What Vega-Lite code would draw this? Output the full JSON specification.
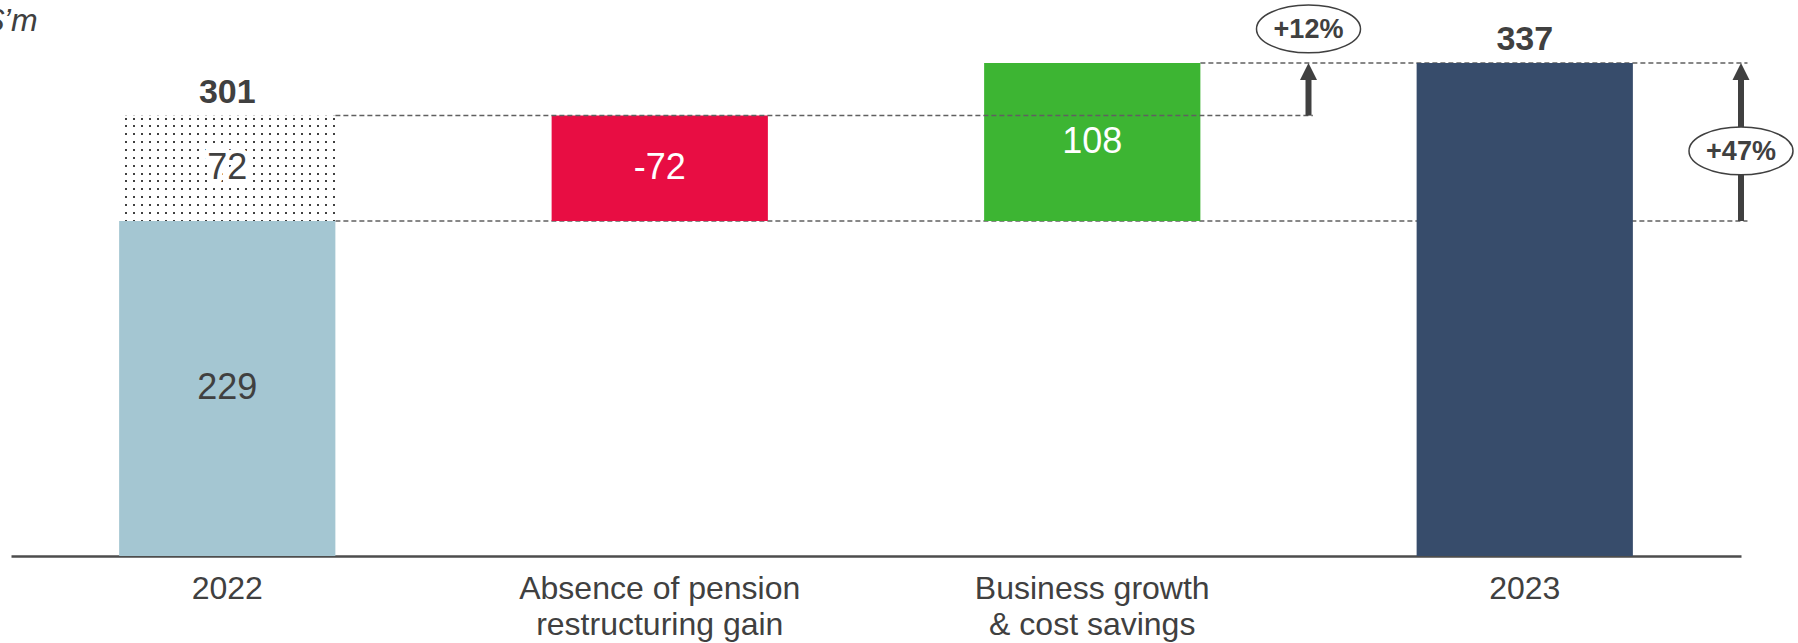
{
  "$schema": "https://vega.github.io/schema/vega-lite/v6.json",
  "width": 1730,
  "height": 556,
  "autosize": {"type": "none"},
  "padding": {"left": 11, "top": 0, "right": 57, "bottom": 87},
  "background": "white",
  "title": {
    "text": "$’m",
    "anchor": "start",
    "frame": "group",
    "orient": "top",
    "offset": -30,
    "dx": -25,
    "dy": 33,
    "baseline": "alphabetic",
    "fontSize": 32,
    "fontStyle": "italic",
    "fontWeight": "normal",
    "color": "#404040",
    "font": "Liberation Sans"
  },
  "config": {
    "view": {"stroke": null},
    "font": "Liberation Sans",
    "axis": {"grid": false},
    "axisY": {"domain": false, "ticks": false, "labels": false, "title": null}
  },
  "datasets": {
    "bars": [
      {"cat": "2022", "start": 0, "end": 229, "kind": "base"},
      {"cat": "Absence of pension restructuring gain", "start": 229, "end": 301, "kind": "neg"},
      {"cat": "Business growth & cost savings", "start": 229, "end": 337, "kind": "pos"},
      {"cat": "2023", "start": 0, "end": 337, "kind": "total"}
    ],
    "dotted": [
      {"cat": "2022", "start": 229, "end": 301, "label": "72"}
    ],
    "labels": [
      {"cat": "2022", "start": 0, "end": 229, "text": "229", "tone": "dark"},
      {"cat": "2022", "start": 229, "end": 301, "text": "72", "tone": "dark"},
      {"cat": "Absence of pension restructuring gain", "start": 229, "end": 301, "text": "-72", "tone": "light"},
      {"cat": "Business growth & cost savings", "start": 229, "end": 337, "text": "108", "tone": "light"}
    ],
    "totals": [
      {"cat": "2022", "value": 301},
      {"cat": "2023", "value": 337}
    ],
    "connUnder": [
      {"from": "2022", "to": "2023", "level": 229},
      {"from": "Business growth & cost savings", "to": "2023", "level": 337}
    ],
    "connOver": [
      {"from": "2022", "to": "2023", "level": 301}
    ],
    "arrow12": [
      {"cat": "2023", "from": 301, "to": 337, "pct": "+12%"}
    ],
    "arrow47": [
      {"cat": "2023", "from": 229, "to": 337, "pct": "+47%"}
    ]
  },
  "layer": [
    {
      "data": {"name": "connUnder"},
      "mark": {"type": "rule", "strokeDash": [5, 3], "strokeWidth": 1.5, "color": "#606060"},
      "encoding": {
        "x": {"field": "from", "type": "nominal", "bandPosition": 1, "title": null},
        "x2": {"field": "to", "bandPosition": 1.53},
        "y": {"field": "level", "type": "quantitative", "title": null}
      }
    },
    {
      "data": {"name": "bars"},
      "mark": {"type": "bar"},
      "encoding": {
        "x": {
          "field": "cat",
          "type": "nominal",
          "scale": {
            "domain": ["2022", "Absence of pension restructuring gain", "Business growth & cost savings", "2023"],
            "paddingInner": 0.5,
            "paddingOuter": 0.25
          },
          "axis": {
            "title": null,
            "ticks": false,
            "domain": true,
            "domainColor": "#4d4d4d",
            "domainWidth": 2.5,
            "labelFontSize": 32,
            "labelColor": "#404040",
            "labelPadding": 32,
            "labelLineHeight": 36,
            "labelLimit": 0,
            "labelOverlap": false,
            "labelAngle": 0,
            "labelAlign": "center",
            "labelExpr": "datum.value == 'Absence of pension restructuring gain' ? ['Absence of pension', 'restructuring gain'] : datum.value == 'Business growth & cost savings' ? ['Business growth', '& cost savings'] : datum.value"
          }
        },
        "y": {
          "field": "start",
          "type": "quantitative",
          "scale": {"domain": [0, 380], "nice": false},
          "axis": {"domain": false, "ticks": false, "labels": false, "grid": false, "title": null}
        },
        "y2": {"field": "end"},
        "color": {
          "field": "kind",
          "type": "nominal",
          "scale": {"domain": ["base", "neg", "pos", "total"], "range": ["#A4C6D2", "#E80D43", "#3DB533", "#374C6B"]},
          "legend": null
        }
      }
    },
    {
      "data": {"name": "dotted"},
      "mark": {
        "type": "bar",
        "fill": {
          "gradient": "linear", "x1": 0, "y1": 0, "x2": 1, "y2": 0,
          "stops": [
            {"offset": 0, "color": "#ffffff"},
            {"offset": 0.0277, "color": "#ffffff"}, {"offset": 0.0277, "color": "#404040"}, {"offset": 0.0370, "color": "#404040"}, {"offset": 0.0370, "color": "#ffffff"},
            {"offset": 0.0647, "color": "#ffffff"}, {"offset": 0.0647, "color": "#404040"}, {"offset": 0.0740, "color": "#404040"}, {"offset": 0.0740, "color": "#ffffff"},
            {"offset": 0.1017, "color": "#ffffff"}, {"offset": 0.1017, "color": "#404040"}, {"offset": 0.1110, "color": "#404040"}, {"offset": 0.1110, "color": "#ffffff"},
            {"offset": 0.1387, "color": "#ffffff"}, {"offset": 0.1387, "color": "#404040"}, {"offset": 0.1480, "color": "#404040"}, {"offset": 0.1480, "color": "#ffffff"},
            {"offset": 0.1757, "color": "#ffffff"}, {"offset": 0.1757, "color": "#404040"}, {"offset": 0.1850, "color": "#404040"}, {"offset": 0.1850, "color": "#ffffff"},
            {"offset": 0.2127, "color": "#ffffff"}, {"offset": 0.2127, "color": "#404040"}, {"offset": 0.2220, "color": "#404040"}, {"offset": 0.2220, "color": "#ffffff"},
            {"offset": 0.2497, "color": "#ffffff"}, {"offset": 0.2497, "color": "#404040"}, {"offset": 0.2590, "color": "#404040"}, {"offset": 0.2590, "color": "#ffffff"},
            {"offset": 0.2867, "color": "#ffffff"}, {"offset": 0.2867, "color": "#404040"}, {"offset": 0.2960, "color": "#404040"}, {"offset": 0.2960, "color": "#ffffff"},
            {"offset": 0.3237, "color": "#ffffff"}, {"offset": 0.3237, "color": "#404040"}, {"offset": 0.3329, "color": "#404040"}, {"offset": 0.3329, "color": "#ffffff"},
            {"offset": 0.3607, "color": "#ffffff"}, {"offset": 0.3607, "color": "#404040"}, {"offset": 0.3699, "color": "#404040"}, {"offset": 0.3699, "color": "#ffffff"},
            {"offset": 0.3977, "color": "#ffffff"}, {"offset": 0.3977, "color": "#404040"}, {"offset": 0.4069, "color": "#404040"}, {"offset": 0.4069, "color": "#ffffff"},
            {"offset": 0.4347, "color": "#ffffff"}, {"offset": 0.4347, "color": "#404040"}, {"offset": 0.4439, "color": "#404040"}, {"offset": 0.4439, "color": "#ffffff"},
            {"offset": 0.4717, "color": "#ffffff"}, {"offset": 0.4717, "color": "#404040"}, {"offset": 0.4809, "color": "#404040"}, {"offset": 0.4809, "color": "#ffffff"},
            {"offset": 0.5087, "color": "#ffffff"}, {"offset": 0.5087, "color": "#404040"}, {"offset": 0.5179, "color": "#404040"}, {"offset": 0.5179, "color": "#ffffff"},
            {"offset": 0.5457, "color": "#ffffff"}, {"offset": 0.5457, "color": "#404040"}, {"offset": 0.5549, "color": "#404040"}, {"offset": 0.5549, "color": "#ffffff"},
            {"offset": 0.5827, "color": "#ffffff"}, {"offset": 0.5827, "color": "#404040"}, {"offset": 0.5919, "color": "#404040"}, {"offset": 0.5919, "color": "#ffffff"},
            {"offset": 0.6197, "color": "#ffffff"}, {"offset": 0.6197, "color": "#404040"}, {"offset": 0.6289, "color": "#404040"}, {"offset": 0.6289, "color": "#ffffff"},
            {"offset": 0.6567, "color": "#ffffff"}, {"offset": 0.6567, "color": "#404040"}, {"offset": 0.6659, "color": "#404040"}, {"offset": 0.6659, "color": "#ffffff"},
            {"offset": 0.6936, "color": "#ffffff"}, {"offset": 0.6936, "color": "#404040"}, {"offset": 0.7029, "color": "#404040"}, {"offset": 0.7029, "color": "#ffffff"},
            {"offset": 0.7306, "color": "#ffffff"}, {"offset": 0.7306, "color": "#404040"}, {"offset": 0.7399, "color": "#404040"}, {"offset": 0.7399, "color": "#ffffff"},
            {"offset": 0.7676, "color": "#ffffff"}, {"offset": 0.7676, "color": "#404040"}, {"offset": 0.7769, "color": "#404040"}, {"offset": 0.7769, "color": "#ffffff"},
            {"offset": 0.8046, "color": "#ffffff"}, {"offset": 0.8046, "color": "#404040"}, {"offset": 0.8139, "color": "#404040"}, {"offset": 0.8139, "color": "#ffffff"},
            {"offset": 0.8416, "color": "#ffffff"}, {"offset": 0.8416, "color": "#404040"}, {"offset": 0.8509, "color": "#404040"}, {"offset": 0.8509, "color": "#ffffff"},
            {"offset": 0.8786, "color": "#ffffff"}, {"offset": 0.8786, "color": "#404040"}, {"offset": 0.8879, "color": "#404040"}, {"offset": 0.8879, "color": "#ffffff"},
            {"offset": 0.9156, "color": "#ffffff"}, {"offset": 0.9156, "color": "#404040"}, {"offset": 0.9249, "color": "#404040"}, {"offset": 0.9249, "color": "#ffffff"},
            {"offset": 0.9526, "color": "#ffffff"}, {"offset": 0.9526, "color": "#404040"}, {"offset": 0.9619, "color": "#404040"}, {"offset": 0.9619, "color": "#ffffff"},
            {"offset": 0.9896, "color": "#ffffff"}, {"offset": 0.9896, "color": "#404040"}, {"offset": 0.9988, "color": "#404040"}, {"offset": 0.9988, "color": "#ffffff"},
            {"offset": 1, "color": "#ffffff"}
          ]
        }
      },
      "encoding": {
        "x": {"field": "cat", "type": "nominal", "title": null},
        "y": {"field": "start", "type": "quantitative", "title": null},
        "y2": {"field": "end"}
      }
    },
    {
      "data": {"name": "dotted"},
      "mark": {
        "type": "bar",
        "fill": {
          "gradient": "linear", "x1": 0, "y1": 0, "x2": 0, "y2": 1,
          "stops": [
            {"offset": 0, "color": "#ffffff"},
            {"offset": 0.0190, "color": "#ffffff"}, {"offset": 0.0190, "color": "rgba(255,255,255,0)"}, {"offset": 0.0380, "color": "rgba(255,255,255,0)"}, {"offset": 0.0380, "color": "#ffffff"},
            {"offset": 0.0935, "color": "#ffffff"}, {"offset": 0.0935, "color": "rgba(255,255,255,0)"}, {"offset": 0.1125, "color": "rgba(255,255,255,0)"}, {"offset": 0.1125, "color": "#ffffff"},
            {"offset": 0.1681, "color": "#ffffff"}, {"offset": 0.1681, "color": "rgba(255,255,255,0)"}, {"offset": 0.1871, "color": "rgba(255,255,255,0)"}, {"offset": 0.1871, "color": "#ffffff"},
            {"offset": 0.2426, "color": "#ffffff"}, {"offset": 0.2426, "color": "rgba(255,255,255,0)"}, {"offset": 0.2616, "color": "rgba(255,255,255,0)"}, {"offset": 0.2616, "color": "#ffffff"},
            {"offset": 0.3172, "color": "#ffffff"}, {"offset": 0.3172, "color": "rgba(255,255,255,0)"}, {"offset": 0.3362, "color": "rgba(255,255,255,0)"}, {"offset": 0.3362, "color": "#ffffff"},
            {"offset": 0.3917, "color": "#ffffff"}, {"offset": 0.3917, "color": "rgba(255,255,255,0)"}, {"offset": 0.4107, "color": "rgba(255,255,255,0)"}, {"offset": 0.4107, "color": "#ffffff"},
            {"offset": 0.4663, "color": "#ffffff"}, {"offset": 0.4663, "color": "rgba(255,255,255,0)"}, {"offset": 0.4853, "color": "rgba(255,255,255,0)"}, {"offset": 0.4853, "color": "#ffffff"},
            {"offset": 0.5408, "color": "#ffffff"}, {"offset": 0.5408, "color": "rgba(255,255,255,0)"}, {"offset": 0.5598, "color": "rgba(255,255,255,0)"}, {"offset": 0.5598, "color": "#ffffff"},
            {"offset": 0.6154, "color": "#ffffff"}, {"offset": 0.6154, "color": "rgba(255,255,255,0)"}, {"offset": 0.6344, "color": "rgba(255,255,255,0)"}, {"offset": 0.6344, "color": "#ffffff"},
            {"offset": 0.6899, "color": "#ffffff"}, {"offset": 0.6899, "color": "rgba(255,255,255,0)"}, {"offset": 0.7089, "color": "rgba(255,255,255,0)"}, {"offset": 0.7089, "color": "#ffffff"},
            {"offset": 0.7645, "color": "#ffffff"}, {"offset": 0.7645, "color": "rgba(255,255,255,0)"}, {"offset": 0.7835, "color": "rgba(255,255,255,0)"}, {"offset": 0.7835, "color": "#ffffff"},
            {"offset": 0.8390, "color": "#ffffff"}, {"offset": 0.8390, "color": "rgba(255,255,255,0)"}, {"offset": 0.8580, "color": "rgba(255,255,255,0)"}, {"offset": 0.8580, "color": "#ffffff"},
            {"offset": 0.9136, "color": "#ffffff"}, {"offset": 0.9136, "color": "rgba(255,255,255,0)"}, {"offset": 0.9326, "color": "rgba(255,255,255,0)"}, {"offset": 0.9326, "color": "#ffffff"},
            {"offset": 0.9881, "color": "#ffffff"}, {"offset": 0.9881, "color": "rgba(255,255,255,0)"}, {"offset": 1, "color": "rgba(255,255,255,0)"}
          ]
        }
      },
      "encoding": {
        "x": {"field": "cat", "type": "nominal", "title": null},
        "y": {"field": "start", "type": "quantitative", "title": null},
        "y2": {"field": "end"}
      }
    },
    {
      "data": {"name": "connOver"},
      "mark": {"type": "rule", "strokeDash": [5, 3], "strokeWidth": 1.5, "color": "#606060"},
      "encoding": {
        "x": {"field": "from", "type": "nominal", "bandPosition": 1, "title": null},
        "x2": {"field": "to", "bandPosition": -0.48},
        "y": {"field": "level", "type": "quantitative", "title": null}
      }
    },
    {
      "data": {"name": "dotted"},
      "transform": [{"calculate": "(datum.start + datum.end) / 2", "as": "mid"}],
      "mark": {"type": "text", "fontSize": 36, "baseline": "middle", "fill": "#ffffff", "stroke": "#ffffff", "strokeWidth": 10, "strokeJoin": "round"},
      "encoding": {
        "x": {"field": "cat", "type": "nominal", "title": null},
        "y": {"field": "mid", "type": "quantitative", "title": null},
        "text": {"field": "label"}
      }
    },
    {
      "data": {"name": "labels"},
      "transform": [{"calculate": "(datum.start + datum.end) / 2", "as": "mid"}],
      "mark": {"type": "text", "fontSize": 36, "baseline": "middle"},
      "encoding": {
        "x": {"field": "cat", "type": "nominal", "title": null},
        "y": {"field": "mid", "type": "quantitative", "title": null},
        "text": {"field": "text"},
        "fill": {"field": "tone", "type": "nominal", "scale": {"domain": ["dark", "light"], "range": ["#404040", "#ffffff"]}, "legend": null}
      }
    },
    {
      "data": {"name": "totals"},
      "mark": {"type": "text", "fontSize": 34, "fontWeight": "bold", "baseline": "alphabetic", "dy": -13, "color": "#404040"},
      "encoding": {
        "x": {"field": "cat", "type": "nominal", "title": null},
        "y": {"field": "value", "type": "quantitative", "title": null},
        "text": {"field": "value"}
      }
    },
    {
      "data": {"name": "arrow12"},
      "mark": {"type": "rule", "strokeWidth": 6, "color": "#404040", "y2Offset": 9},
      "encoding": {
        "x": {"field": "cat", "type": "nominal", "bandPosition": -0.5, "title": null},
        "y": {"field": "from", "type": "quantitative", "title": null},
        "y2": {"field": "to"}
      }
    },
    {
      "data": {"name": "arrow12"},
      "mark": {"type": "point", "shape": "M 0 0 L 1 2 L -1 2 Z", "size": 289, "filled": true, "color": "#404040", "opacity": 1, "strokeWidth": 0},
      "encoding": {
        "x": {"field": "cat", "type": "nominal", "bandPosition": -0.5, "title": null},
        "y": {"field": "to", "type": "quantitative", "title": null}
      }
    },
    {
      "data": {"name": "arrow12"},
      "mark": {"type": "point", "shape": "M -1 0 A 1 0.46 0 1 1 1 0 A 1 0.46 0 1 1 -1 0 Z", "size": 10816, "filled": true, "fill": "#ffffff", "stroke": "#404040", "strokeWidth": 1.5, "opacity": 1, "fillOpacity": 1, "yOffset": -34},
      "encoding": {
        "x": {"field": "cat", "type": "nominal", "bandPosition": -0.5, "title": null},
        "y": {"field": "to", "type": "quantitative", "title": null}
      }
    },
    {
      "data": {"name": "arrow12"},
      "mark": {"type": "text", "fontSize": 27, "fontWeight": "bold", "baseline": "middle", "color": "#404040", "yOffset": -33},
      "encoding": {
        "x": {"field": "cat", "type": "nominal", "bandPosition": -0.5, "title": null},
        "y": {"field": "to", "type": "quantitative", "title": null},
        "text": {"field": "pct"}
      }
    },
    {
      "data": {"name": "arrow47"},
      "mark": {"type": "rule", "strokeWidth": 6, "color": "#404040", "y2Offset": 9},
      "encoding": {
        "x": {"field": "cat", "type": "nominal", "bandPosition": 1.5, "title": null},
        "y": {"field": "from", "type": "quantitative", "title": null},
        "y2": {"field": "to"}
      }
    },
    {
      "data": {"name": "arrow47"},
      "mark": {"type": "point", "shape": "M 0 0 L 1 2 L -1 2 Z", "size": 289, "filled": true, "color": "#404040", "opacity": 1, "strokeWidth": 0},
      "encoding": {
        "x": {"field": "cat", "type": "nominal", "bandPosition": 1.5, "title": null},
        "y": {"field": "to", "type": "quantitative", "title": null}
      }
    },
    {
      "data": {"name": "arrow47"},
      "transform": [{"calculate": "(datum.from + datum.to) / 2", "as": "mid"}],
      "mark": {"type": "point", "shape": "M -1 0 A 1 0.46 0 1 1 1 0 A 1 0.46 0 1 1 -1 0 Z", "size": 10816, "filled": true, "fill": "#ffffff", "stroke": "#404040", "strokeWidth": 1.5, "opacity": 1, "fillOpacity": 1, "yOffset": 9},
      "encoding": {
        "x": {"field": "cat", "type": "nominal", "bandPosition": 1.5, "title": null},
        "y": {"field": "mid", "type": "quantitative", "title": null}
      }
    },
    {
      "data": {"name": "arrow47"},
      "transform": [{"calculate": "(datum.from + datum.to) / 2", "as": "mid"}],
      "mark": {"type": "text", "fontSize": 27, "fontWeight": "bold", "baseline": "middle", "color": "#404040", "yOffset": 10},
      "encoding": {
        "x": {"field": "cat", "type": "nominal", "bandPosition": 1.5, "title": null},
        "y": {"field": "mid", "type": "quantitative", "title": null},
        "text": {"field": "pct"}
      }
    }
  ]
}
